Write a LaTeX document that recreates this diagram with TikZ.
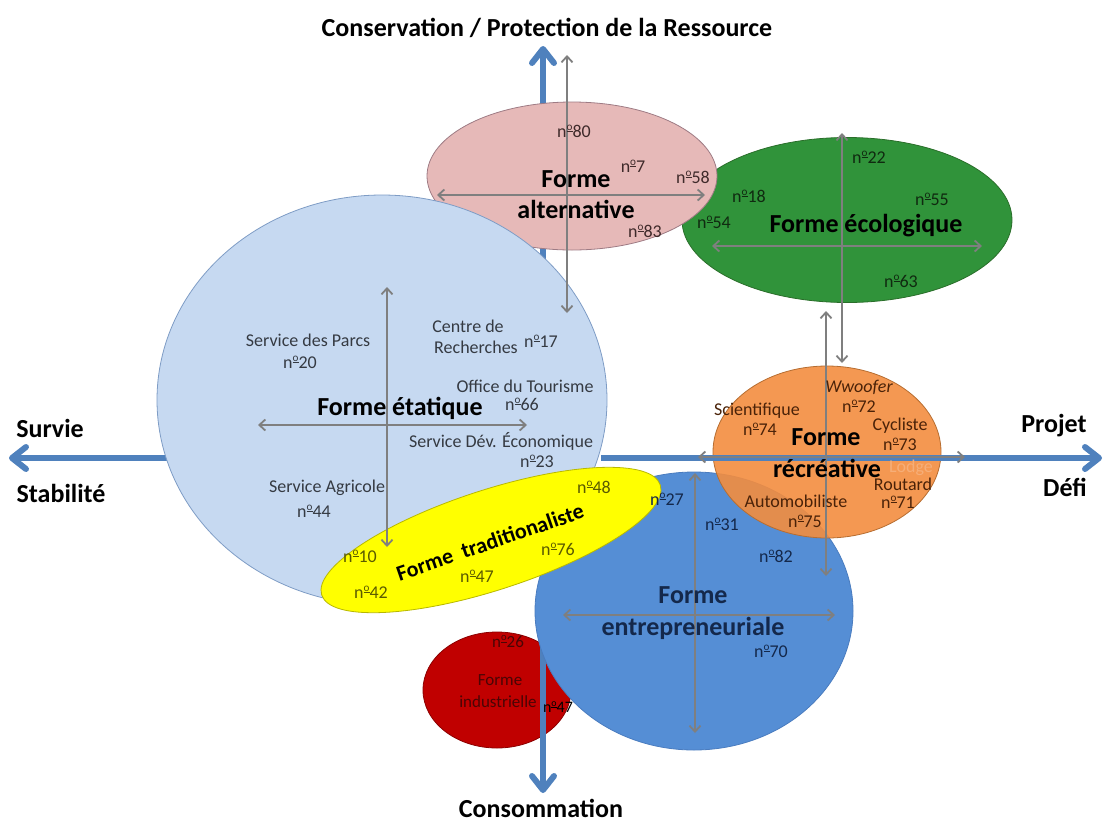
\documentclass[tikz,border=0pt]{standalone}
\usepackage{fontspec}
\usepackage{graphicx}
\setmainfont{Carlito}
\usetikzlibrary{shapes.geometric,arrows.meta}
\newcommand{\nro}{n\raisebox{0.36em}{\scalebox{0.62}{\underline{o}}}}
\definecolor{axisblue}{HTML}{4F81BD}
\definecolor{arrgray}{HTML}{7F7F7F}
\definecolor{etatfill}{HTML}{C6D9F1}
\definecolor{etatdraw}{HTML}{7E9CC5}
\definecolor{pinkfill}{HTML}{E6B9B8}
\definecolor{pinkdraw}{HTML}{9E7B84}
\definecolor{greenfill}{HTML}{30933A}
\definecolor{greendraw}{HTML}{2A6E2A}
\definecolor{orangefill}{HTML}{F38D3F}
\definecolor{orangedraw}{HTML}{B66D31}
\definecolor{entfill}{HTML}{558ED5}
\definecolor{entdraw}{HTML}{4A7CBF}
\definecolor{yelfill}{HTML}{FFFF00}
\definecolor{yeldraw}{HTML}{B8B800}
\definecolor{redfill}{HTML}{C00000}
\definecolor{reddraw}{HTML}{8C0000}
\definecolor{etattext}{HTML}{353A42}
\definecolor{pinktext}{HTML}{3F2A2A}
\definecolor{greentext}{HTML}{102A10}
\definecolor{orangetext}{HTML}{4A2208}
\definecolor{lodgetext}{HTML}{F6AE78}
\definecolor{enttext}{HTML}{14284B}
\definecolor{yeltext}{HTML}{5A5A00}
\definecolor{redtext}{HTML}{4A0505}
\begin{document}
\begin{tikzpicture}[x=1pt,y=-1pt,
  mainaxis/.style={axisblue, line width=6pt, -{Straight Barb[length=14pt,width=22pt,round]}},
  grayarr/.style={arrgray, line width=1.8pt, {Straight Barb[length=6pt,width=11pt]}-{Straight Barb[length=6pt,width=11pt]}},
  blob/.style={ellipse, inner sep=0pt, line width=0.8pt},
  lbl/.style={anchor=base, inner sep=0pt, font=\fontsize{18}{20}\selectfont},
  ttl/.style={anchor=base, inner sep=0pt, font=\bfseries\fontsize{26}{30}\selectfont},
  axl/.style={anchor=base, inner sep=0pt, font=\bfseries\fontsize{26}{30}\selectfont},
]
\useasboundingbox (0,0) rectangle (1106,823);

% axis coordinates
\coordinate (vC) at (543,400);
\coordinate (vT) at (543,46);
\coordinate (vB) at (543,793);
\coordinate (hL) at (9,458);
\coordinate (hR) at (1102,458);
\coordinate (hLm) at (260,458);
\coordinate (hRm) at (601,458);

% industrielle (behind axis)
\node[blob, fill=redfill, draw=reddraw, minimum width=148pt, minimum height=116pt] (indus) at (497,690) {};

% main vertical axis and left part of horizontal axis
\draw[mainaxis] (vC) -- (vT);
\draw[mainaxis] (vC) -- (vB);
\draw[mainaxis] (hLm) -- (hL);

% ellipses
\node[blob, fill=greenfill, draw=greendraw, minimum width=330pt, minimum height=165pt] (eco) at (847,220) {};
\node[blob, fill=pinkfill, draw=pinkdraw, minimum width=290pt, minimum height=148pt] (alt) at (572,176) {};
\node[blob, fill=etatfill, draw=etatdraw, minimum width=450pt, minimum height=410pt] (etat) at (382,400) {};
\node[blob, fill=entfill, draw=entdraw, minimum width=318pt, minimum height=278pt] (ent) at (694,611) {};
\node[blob, fill=yelfill, draw=yeldraw, minimum width=356pt, minimum height=100pt, rotate=18] (trad) at (491,540) {};
\node[blob, fill=orangefill, draw=orangedraw, fill opacity=0.9, minimum width=228pt, minimum height=172pt] (recr) at (827,452) {};

% right part of horizontal axis
\draw[mainaxis] (hRm) -- (hR);

% gray double arrows
\coordinate (a1t) at (567,55);  \coordinate (a1b) at (567,313);
\coordinate (a1l) at (437,195); \coordinate (a1r) at (705,195);
\coordinate (a2t) at (842,133); \coordinate (a2b) at (842,363);
\coordinate (a2l) at (712,246); \coordinate (a2r) at (982,246);
\coordinate (a3t) at (826,311); \coordinate (a3b) at (826,576);
\coordinate (a3l) at (698,457); \coordinate (a3r) at (965,457);
\coordinate (a4t) at (695,473); \coordinate (a4b) at (695,733);
\coordinate (a4l) at (563,615); \coordinate (a4r) at (835,615);
\coordinate (a5t) at (387,287); \coordinate (a5b) at (387,547);
\coordinate (a5l) at (258,425); \coordinate (a5r) at (527,425);
\draw[grayarr] (a1t) -- (a1b);
\draw[grayarr] (a1l) -- (a1r);
\draw[grayarr] (a2t) -- (a2b);
\draw[grayarr] (a2l) -- (a2r);
\draw[grayarr] (a3t) -- (a3b);
\draw[grayarr] (a3l) -- (a3r);
\draw[grayarr] (a4t) -- (a4b);
\draw[grayarr] (a4l) -- (a4r);
\draw[grayarr] (a5t) -- (a5b);
\draw[grayarr] (a5l) -- (a5r);

% axis labels
\node[axl] (ttop) at (547,36) {Conservation / Protection de la Ressource};
\node[axl] (tbot) at (541,817) {Consommation};
\node[axl] (tsur) at (50,437) {Survie};
\node[axl] (tsta) at (61,502) {Stabilité};
\node[axl] (tpro) at (1054,432) {Projet};
\node[axl] (tdef) at (1065,496) {Défi};

% étatique texts
\node[ttl, text=black] (e0) at (400,415) {Forme étatique};
\node[lbl, text=etattext] (e1) at (308,346) {Service des Parcs};
\node[lbl, text=etattext] (e2) at (300,368) {\nro 20};
\node[lbl, text=etattext] (e3) at (468,332) {Centre de};
\node[lbl, text=etattext] (e4) at (476,353) {Recherches};
\node[lbl, text=etattext] (e5) at (541,347) {\nro 17};
\node[lbl, text=etattext] (e6) at (525,392) {Office du Tourisme};
\node[lbl, text=etattext] (e7) at (522,410) {\nro 66};
\node[lbl, text=etattext] (e8) at (501,447) {Service Dév. Économique};
\node[lbl, text=etattext] (e9) at (537,467) {\nro 23};
\node[lbl, text=etattext] (e10) at (327,492) {Service Agricole};
\node[lbl, text=etattext] (e11) at (314,517) {\nro 44};

% alternative texts
\node[ttl, text=black] (p0) at (576,187) {Forme};
\node[ttl, text=black] (p1) at (576,218) {alternative};
\node[lbl, text=pinktext] (p2) at (574,137) {\nro 80};
\node[lbl, text=pinktext] (p3) at (633,172) {\nro 7};
\node[lbl, text=pinktext] (p4) at (693,183) {\nro 58};
\node[lbl, text=pinktext] (p5) at (645,237) {\nro 83};

% écologique texts
\node[ttl, text=black] (g0) at (866,232) {Forme écologique};
\node[lbl, text=greentext] (g1) at (869,163) {\nro 22};
\node[lbl, text=greentext] (g2) at (749,202) {\nro 18};
\node[lbl, text=greentext] (g3) at (932,205) {\nro 55};
\node[lbl, text=greentext] (g4) at (714,228) {\nro 54};
\node[lbl, text=greentext] (g5) at (901,287) {\nro 63};

% récréative texts
\node[ttl, text=black] (o0) at (826,445) {Forme};
\node[ttl, text=black] (o1) at (827,477) {récréative};
\node[lbl, text=orangetext, font=\itshape\fontsize{18}{20}\selectfont] (o2) at (859,392) {Wwoofer};
\node[lbl, text=orangetext] (o3) at (859,412) {\nro 72};
\node[lbl, text=orangetext] (o4) at (757,415) {Scientifique};
\node[lbl, text=orangetext] (o5) at (760,435) {\nro 74};
\node[lbl, text=orangetext] (o6) at (900,430) {Cycliste};
\node[lbl, text=orangetext] (o7) at (900,450) {\nro 73};
\node[lbl, text=lodgetext] (o8) at (911,472) {Lodge};
\node[lbl, text=orangetext] (o9) at (903,490) {Routard};
\node[lbl, text=orangetext] (o10) at (898,508) {\nro 71};
\node[lbl, text=orangetext] (o11) at (796,507) {Automobiliste};
\node[lbl, text=orangetext] (o12) at (805,527) {\nro 75};

% entrepreneuriale texts
\node[ttl, text=enttext] (b0) at (693,603) {Forme};
\node[ttl, text=enttext] (b1) at (693,635) {entrepreneuriale};
\node[lbl, text=enttext] (b2) at (667,505) {\nro 27};
\node[lbl, text=enttext] (b3) at (722,530) {\nro 31};
\node[lbl, text=enttext] (b4) at (776,562) {\nro 82};
\node[lbl, text=enttext] (b5) at (771,657) {\nro 70};

% traditionaliste texts
\node[inner sep=0pt, rotate=19, font=\bfseries\fontsize{22}{26}\selectfont, text=black] (y0) at (490,542) {Forme\hspace{0.45em}traditionaliste};
\node[lbl, text=yeltext] (y1) at (594,493) {\nro 48};
\node[lbl, text=yeltext] (y2) at (360,562) {\nro 10};
\node[lbl, text=yeltext] (y3) at (371,598) {\nro 42};
\node[lbl, text=yeltext] (y4) at (477,582) {\nro 47};
\node[lbl, text=yeltext] (y5) at (558,555) {\nro 76};

% industrielle texts
\node[lbl, text=redtext, font=\fontsize{17}{19}\selectfont] (r0) at (508,647) {\nro 26};
\node[lbl, text=redtext, font=\fontsize{17}{19}\selectfont] (r1) at (500,685) {Forme};
\node[lbl, text=redtext, font=\fontsize{17}{19}\selectfont] (r2) at (498,707) {industrielle};
\node[lbl, text=black, font=\fontsize{16}{18}\selectfont] (r3) at (558,712) {\nro 47};
\end{tikzpicture}
\end{document}
